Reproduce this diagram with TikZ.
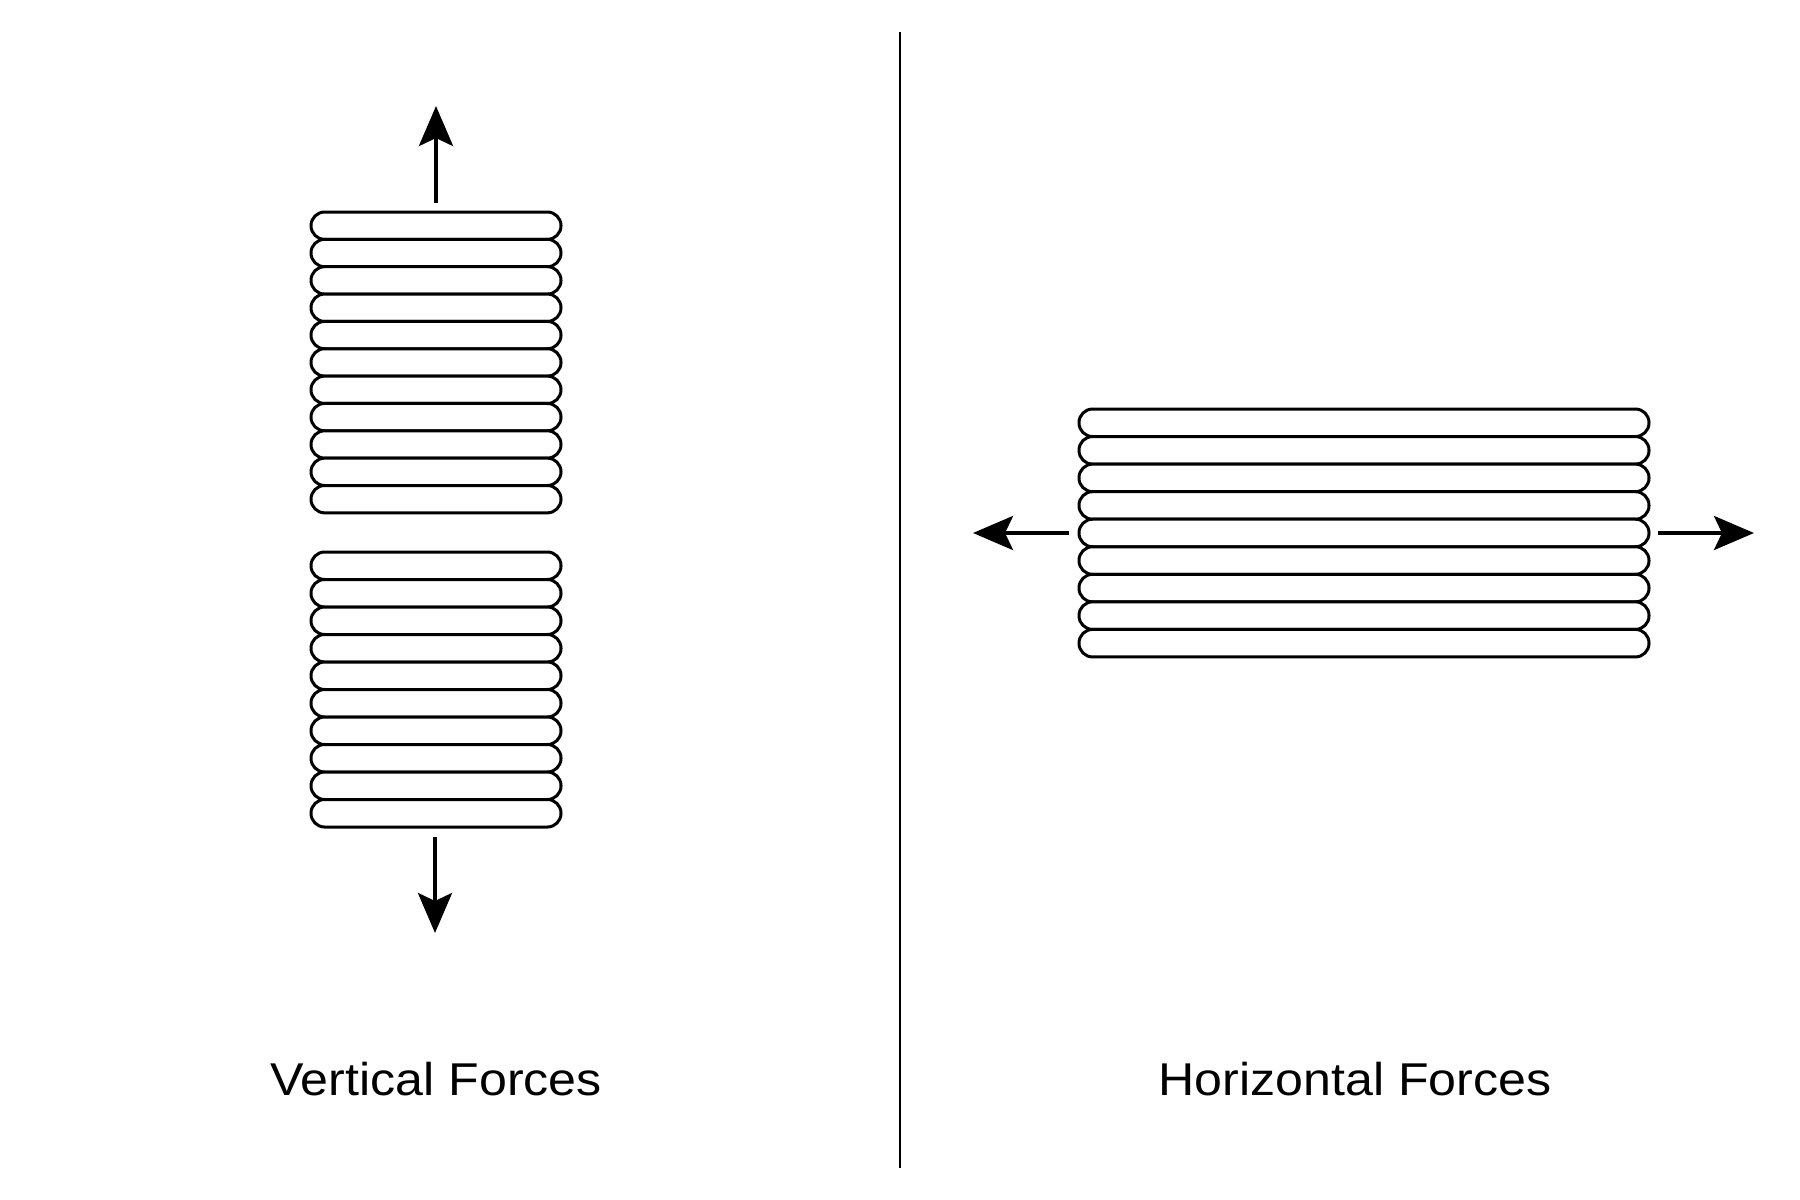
\documentclass[tikz,border=0pt]{standalone}
\usepackage{fontspec}
\setmainfont[FakeStretch=1.09]{Liberation Sans}
\usetikzlibrary{arrows.meta}
\begin{document}
\begin{tikzpicture}[x=0.5pt,y=-0.5pt,
  pill/.style={draw=black,fill=white,line width=1.5pt,rounded corners=6.8pt},
  force/.style={line width=2pt,-{Stealth[length=20pt,width=17pt,inset=4pt]}},
  divider/.style={line width=1.4pt},
  lbl/.style={font=\fontsize{23}{27}\selectfont,anchor=base}]
\useasboundingbox (0,0) rectangle (1800,1200);
\draw[divider] (900,32) coordinate (dt) -- (900,1168) coordinate (db);
% top stack
\foreach \i in {0,...,10} {
  \draw[pill] (311,{212+27.35*\i}) rectangle (561,{212+27.35*(\i+1)});
}
% bottom stack
\foreach \i in {0,...,9} {
  \draw[pill] (311,{552+27.5*\i}) rectangle (561,{552+27.5*(\i+1)});
}
% right stack
\foreach \i in {0,...,8} {
  \draw[pill] (1079,{409+27.55*\i}) rectangle (1649,{409+27.55*(\i+1)});
}
\coordinate (u0) at (436,203); \coordinate (u1) at (436,106);
\coordinate (d0) at (435,837); \coordinate (d1) at (435,933);
\coordinate (l0) at (1069,533); \coordinate (l1) at (973,533);
\coordinate (r0) at (1658,533); \coordinate (r1) at (1754,533);
\draw[force] (u0) -- (u1);
\draw[force] (d0) -- (d1);
\draw[force] (l0) -- (l1);
\draw[force] (r0) -- (r1);
\node[lbl] (vl) at (436,1095) {Vertical Forces};
\node[lbl] (hl) at (1355,1095) {Horizontal Forces};
\end{tikzpicture}
\end{document}
